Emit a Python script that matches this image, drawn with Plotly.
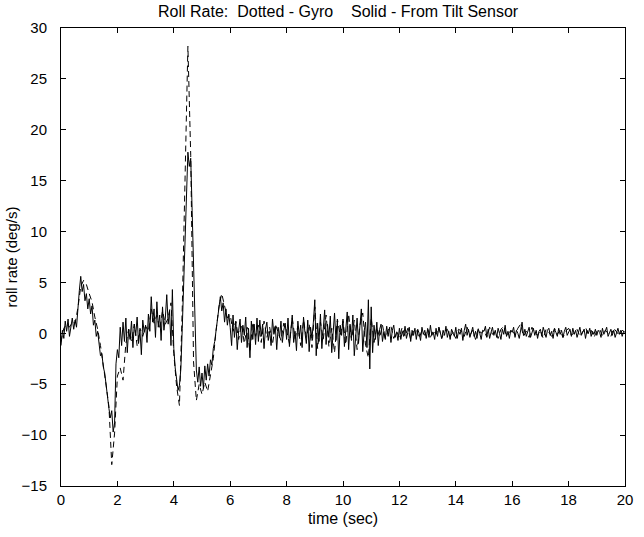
import numpy as np
import plotly.graph_objects as go

# Tilt-sensor roll rate, sampled every 0.05 s (0 .. 20 s)
tilt_dt = 0.05
tilt_rate = [
    -1.2, 0.3, -0.5, 1.2, 0.2, 1.4, -0.3, 0.8, 1.5, 0.4, 1.3, 0.6, 2.8, 4.2, 5.6, 4.1, 4.8, 3.2, 3.9, 2.4,
    3.4, 1.9, 2.7, 0.8, 1.3, -0.3, 0.2, -1.4, -2.2, -2.0, -3.3, -3.9, -5.2, -6.1, -7.4, -8.3, -7.6, -9.7, -8.8, -3.0,
    -1.6, -2.4, 0.6, -1.2, 1.1, -0.8, 1.5, -1.9, 0.4, -0.6, 1.2, -1.4, 0.9, -0.2, 1.6, -1.0, 0.3, -2.1, 1.3, 0.1,
    0.8, -0.9, 1.9, 0.2, 3.6, 1.1, 2.4, -0.4, 3.1, 0.6, 1.8, -0.7, 2.6, 0.3, 1.5, 3.8, 0.9, 2.2, -1.2, 4.3,
    -1.5, -3.4, -4.6, -5.6, -5.1, -3.5, 0.5, 5.2, 10.2, 15.1, 17.8, 16.4, 17.2, 12.1, 7.0, 1.2, -3.6, -4.8, -3.3, -5.2,
    -3.9, -5.4, -3.2, -4.6, -3.0, -4.2, -2.6, -3.1, -1.5, -0.8, 0.4, 1.3, 2.6, 3.6, 2.2, 3.0, 1.1, 2.4, 0.8, 1.9,
    0.6, -1.2, 1.8, -0.4, 1.1, -1.6, 0.3, 1.4, -0.9, 0.8, -0.2, 1.6, -1.4, 0.5, -2.4, 1.2, -0.6, 0.9, -1.1, 1.5,
    -0.8, 1.3, -0.3, 0.9, -1.5, 0.4, 1.1, -0.7, 0.2, -1.2, 1.4, -0.1, 0.7, -1.6, 0.6, -0.4, 1.2, -0.9, 0.3, 1.0,
    -0.6, 1.5, -1.3, 0.4, 1.8, -0.9, 0.2, -1.7, 1.2, -0.3, 0.8, -1.4, 1.6, 0.1, -1.0, 1.3, -1.8, 0.6, -0.5, 1.1,
    3.3, -2.2, 1.0, -0.8, 1.9, -1.5, 0.4, 2.3, -1.1, 0.9, -0.4, 1.7, -1.9, 0.6, 2.0, -0.7, 1.2, -2.5, 0.8, -0.2,
    1.4, -1.3, 0.5, 2.1, -1.6, 0.9, -0.5, 1.8, -2.2, 0.3, 1.5, -1.0, 0.7, 2.4, -1.8, 0.2, 1.1, -1.4, 3.3, -3.5,
    2.6, -1.9, 0.8, -0.6, 1.1, -1.2, 0.4, 0.9, -0.8, 0.2, -0.5, 0.7, -0.3, 0.6, -0.9, 0.3, 0.8, -0.4, 0.1, -0.7,
    0.5, -0.6, 0.2, -0.3, 0.7, -0.5, 0.1, 0.6, -0.8, 0.3, -0.2, 0.5, -0.6, 0.4, 0.0, -0.7, 0.6, -0.1, 0.3, -0.5,
    0.4, -0.4, 0.8, -0.2, 0.1, -0.6, 0.5, -0.3, 0.6, 0.0, -0.5, 0.3, -0.2, 0.7, -0.4, 0.2, -0.6, 0.4, 0.1, -0.3,
    0.6, -0.5, 0.2, -0.1, 0.5, -0.7, 0.3, 0.9, -0.2, 0.4, -0.4, 0.1, 0.6, -0.3, 0.2, -0.5, 0.4, 0.0, -0.6, 0.3,
    0.2, 0.7, -0.3, 0.4, -0.5, 0.1, 0.6, -0.2, 0.3, -0.4, 0.5, 0.0, -0.6, 0.4, -0.1, 0.8, -0.3, 0.2, -0.5, 0.3,
    0.1, 0.6, -0.4, 0.3, 0.0, -0.5, 0.5, 1.1, -0.2, 0.4, -0.3, 0.2, 0.6, -0.4, 0.1, 0.5, -0.2, 0.3, -0.5, 0.2,
    0.4, -0.3, 0.6, 0.0, -0.4, 0.3, 0.5, -0.2, 0.2, -0.5, 0.4, 0.1, -0.3, 0.5, -0.1, 0.3, -0.4, 0.2, 0.6, -0.2,
    0.1, 0.4, -0.3, 0.5, -0.1, 0.3, -0.4, 0.2, 0.6, -0.2, 0.1, 0.4, -0.5, 0.3, 0.0, 0.5, -0.3, 0.2, -0.1, 0.4,
    -0.2, 0.3, 0.1, -0.4, 0.5, -0.1, 0.2, 0.6, -0.3, 0.1, 0.4, -0.2, 0.3, -0.4, 0.2, 0.5, -0.1, 0.3, -0.3, 0.2,
    0.1,
]

# Gyro roll rate, sampled every 0.1 s (0 .. 20 s)
gyro_dt = 0.1
gyro_rate = [
    -0.8, 0.5, 0.9, 0.6, 1.1, 1.0, 2.5, 4.6, 5.2, 4.8,
    3.9, 3.1, 1.6, 0.4, -1.2, -3.0, -5.1, -7.2, -12.9, -9.8,
    -4.2, -3.4, -4.6, -1.0, 0.4, -0.8, 0.9, -1.2, 0.5, -0.3,
    0.7, 0.2, 2.4, 1.0, 1.8, 0.4, 2.2, 0.9, 1.5, 3.0,
    -2.0, -5.2, -7.1, 2.5, 16.0, 28.2, 17.5, -2.8, -6.6, -5.0,
    -6.0, -4.8, -5.7, -4.2, -2.5, 0.3, 2.6, 3.9, 2.7, 1.5,
    1.8, 0.2, 1.2, -0.6, 0.9, -1.0, 0.6, -1.8, 1.1, -0.3,
    0.8, -0.9, 1.2, -0.4, 0.6, -1.1, 0.9, 0.2, -0.7, 1.0,
    0.3, -1.0, 1.5, -0.5, 0.7, -1.2, 1.3, -0.4, 0.9, -1.4,
    2.6, -1.5, 1.1, -0.6, 1.8, -1.3, 0.5, -1.9, 1.4, -0.2,
    1.2, -1.1, 1.9, -0.7, 1.3, -1.6, 0.8, 2.0, -1.2, -2.4,
    1.5, -0.9, 0.6, -0.4, 0.8, -0.6, 0.3, 0.7, -0.5, 0.2,
    -0.4, 0.6, -0.3, 0.5, -0.6, 0.2, 0.4, -0.5, 0.3, -0.2,
    0.5, -0.4, 0.3, -0.1, 0.6, -0.5, 0.2, 0.4, -0.3, 0.1,
    -0.5, 0.4, 0.2, -0.3, 0.6, -0.2, 0.3, -0.6, 0.5, 0.0,
    0.3, -0.4, 0.6, -0.1, 0.2, -0.5, 0.4, 0.7, -0.3, 0.1,
    0.4, -0.2, 0.5, 0.9, -0.3, 0.2, -0.4, 0.6, 0.1, -0.2,
    0.3, -0.5, 0.4, 0.1, -0.3, 0.5, -0.1, 0.3, -0.4, 0.2,
    0.5, -0.2, 0.1, 0.4, -0.3, 0.2, 0.6, -0.1, 0.3, -0.4,
    0.2, 0.4, -0.2, 0.3, 0.0, -0.3, 0.5, 0.1, -0.2, 0.3,
    0.1,
]

x_ticks = [0, 2, 4, 6, 8, 10, 12, 14, 16, 18, 20]
y_ticks = [-15, -10, -5, 0, 5, 10, 15, 20, 25, 30]

t_tilt = np.arange(len(tilt_rate)) * tilt_dt
t_gyro = np.arange(len(gyro_rate)) * gyro_dt

FONT = "Liberation Sans, Arial"

fig = go.Figure()
fig.add_trace(go.Scatter(
    x=t_gyro, y=gyro_rate, mode="lines", name="Gyro",
    line=dict(color="black", width=1, dash="6px,4px"),
))
fig.add_trace(go.Scatter(
    x=t_tilt, y=tilt_rate, mode="lines", name="From Tilt Sensor",
    line=dict(color="black", width=1),
))

axis_common = dict(
    showgrid=False, zeroline=False, showline=True, linecolor="black", linewidth=1,
    mirror="ticks", ticks="inside", ticklen=5, tickcolor="black",
    tickfont=dict(family=FONT, size=15, color="black"),
)

fig.update_layout(
    width=644, height=537,
    margin=dict(l=61, r=11, t=28, b=51),
    paper_bgcolor="white", plot_bgcolor="white",
    showlegend=False,
    title=dict(
        text="Roll Rate:  Dotted - Gyro    Solid - From Tilt Sensor",
        x=0.525, xanchor="center", y=0.979, yanchor="middle",
        font=dict(family=FONT, size=16, color="black"),
    ),
    xaxis=dict(
        range=[0, 20], tickvals=x_ticks, ticklabelstandoff=0,
        title=dict(text="time (sec)", standoff=5,
                   font=dict(family=FONT, size=16, color="black")),
        **axis_common,
    ),
    yaxis=dict(
        range=[-15, 30], tickvals=y_ticks, ticklabelstandoff=10,
        title=dict(text="roll rate (deg/s)", standoff=0,
                   font=dict(family=FONT, size=15, color="black")),
        **axis_common,
    ),
)

fig.write_html("out.html")
